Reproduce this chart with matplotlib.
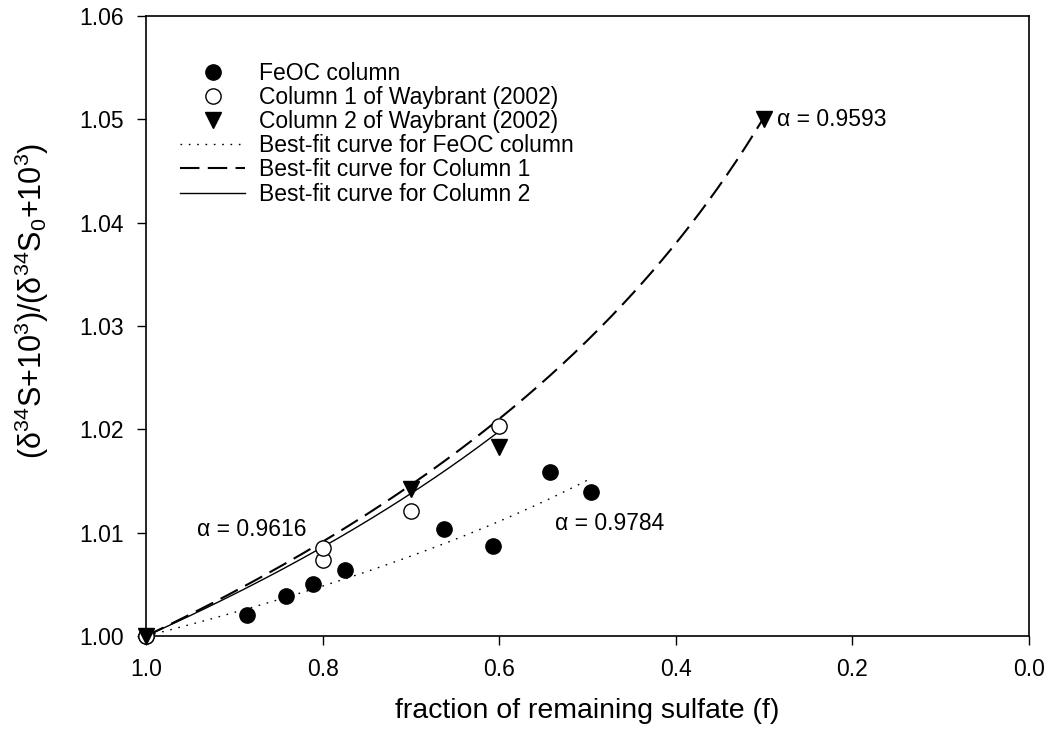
import numpy as np
import matplotlib
matplotlib.use("Agg")
import matplotlib.pyplot as plt

# ----------------------------- data ------------------------------------------
feoc_f = [1.0, 0.886, 0.841, 0.811, 0.775, 0.663, 0.607, 0.542, 0.496]
feoc_r = [1.000, 1.0020, 1.0039, 1.0050, 1.0064, 1.0104, 1.0087, 1.0159, 1.0139]

col1_f = [1.0, 0.800, 0.800, 0.700, 0.600]
col1_r = [1.000, 1.0074, 1.0085, 1.0121, 1.0203]

col2_f = [1.0, 0.700, 0.600, 0.300]
col2_r = [1.000, 1.0142, 1.0183, 1.0500]

# Rayleigh fractionation factors of the best-fit curves, and the f range drawn
alpha_feoc, f_end_feoc = 0.9784, 0.496
alpha_col1, f_end_col1 = 0.9593, 0.300
alpha_col2, f_end_col2 = 0.9616, 0.600

x_ticks = [1.0, 0.8, 0.6, 0.4, 0.2, 0.0]
y_ticks = [1.00, 1.01, 1.02, 1.03, 1.04, 1.05, 1.06]

# ----------------------------- style -----------------------------------------
plt.rcParams['font.family'] = ['Liberation Sans', 'DejaVu Sans']
plt.rcParams['mathtext.fontset'] = 'custom'
plt.rcParams['mathtext.rm'] = 'Liberation Sans'
plt.rcParams['mathtext.it'] = 'Liberation Sans:italic'
plt.rcParams['lines.scale_dashes'] = False

FS_TICK = 16.5
FS_LAB = 20.5


def rayleigh(alpha, f_end):
    f = np.linspace(1.0, f_end, 200)
    return f, f ** (alpha - 1.0)


fig = plt.figure(figsize=(10.51, 7.44), dpi=100)
ax = fig.add_axes([146 / 1051, 108 / 744, 883 / 1051, 620 / 744])

# best-fit curves
f, r = rayleigh(alpha_feoc, f_end_feoc)
ax.plot(f, r, color='black', lw=1.0, dashes=(1.2, 4.8),
        label='Best-fit curve for FeOC column')
f, r = rayleigh(alpha_col1, f_end_col1)
ax.plot(f, r, color='black', lw=1.5, dashes=(14, 6),
        label='Best-fit curve for Column 1')
f, r = rayleigh(alpha_col2, f_end_col2)
ax.plot(f, r, color='black', lw=1.0, ls='-',
        label='Best-fit curve for Column 2')

# data points
ax.plot(feoc_f, feoc_r, ls='none', marker='o', ms=11, mfc='black', mec='black',
        clip_on=False, zorder=5, label='FeOC column')
ax.plot(col1_f, col1_r, ls='none', marker='o', ms=11, mfc='white', mec='black',
        mew=1.0, clip_on=False, zorder=5, label='Column 1 of Waybrant (2002)')
ax.plot(col2_f, col2_r, ls='none', marker='v', ms=11, mfc='black', mec='black',
        clip_on=False, zorder=6, label='Column 2 of Waybrant (2002)')

# annotations
ax.text(0.2857, 1.0500, f'α = {alpha_col1:.4f}', fontsize=FS_TICK, ha='left', va='center')
ax.text(0.9427, 1.0103, f'α = {alpha_col2:.4f}', fontsize=FS_TICK, ha='left', va='center')
ax.text(0.5368, 1.0109, f'α = {alpha_feoc:.4f}', fontsize=FS_TICK, ha='left', va='center')

# axes
ax.set_xlim(1.0, 0.0)
ax.set_ylim(1.00, 1.06)
ax.set_xticks(x_ticks)
ax.set_yticks(y_ticks)
ax.set_xticklabels([f'{v:.1f}' for v in x_ticks])
ax.set_yticklabels([f'{v:.2f}' for v in y_ticks])
ax.tick_params(direction='out', length=6.7, width=1, labelsize=FS_TICK, pad=9.5,
               top=False, right=False)
for sp in ax.spines.values():
    sp.set_linewidth(1.2)

ax.set_xlabel('fraction of remaining sulfate (f)', fontsize=FS_LAB)
ax.set_ylabel(r'(δ$^{34}$S+10$^{3}$)/(δ$^{34}$S$_{0}$+10$^{3}$)', fontsize=22)
ax.xaxis.set_label_coords(0.5, -0.1)
ax.yaxis.set_label_coords(-0.108, 0.54)

# legend: markers first, then curves
h, l = ax.get_legend_handles_labels()
order = [3, 4, 5, 0, 1, 2]
ax.legend([h[i] for i in order], [l[i] for i in order],
          loc='upper left', bbox_to_anchor=(0.0385, 0.926), frameon=False,
          fontsize=FS_TICK, handlelength=2.85, handletextpad=0.6,
          labelspacing=0.05, borderpad=0, borderaxespad=0)

fig.savefig('out.png', dpi=100)
